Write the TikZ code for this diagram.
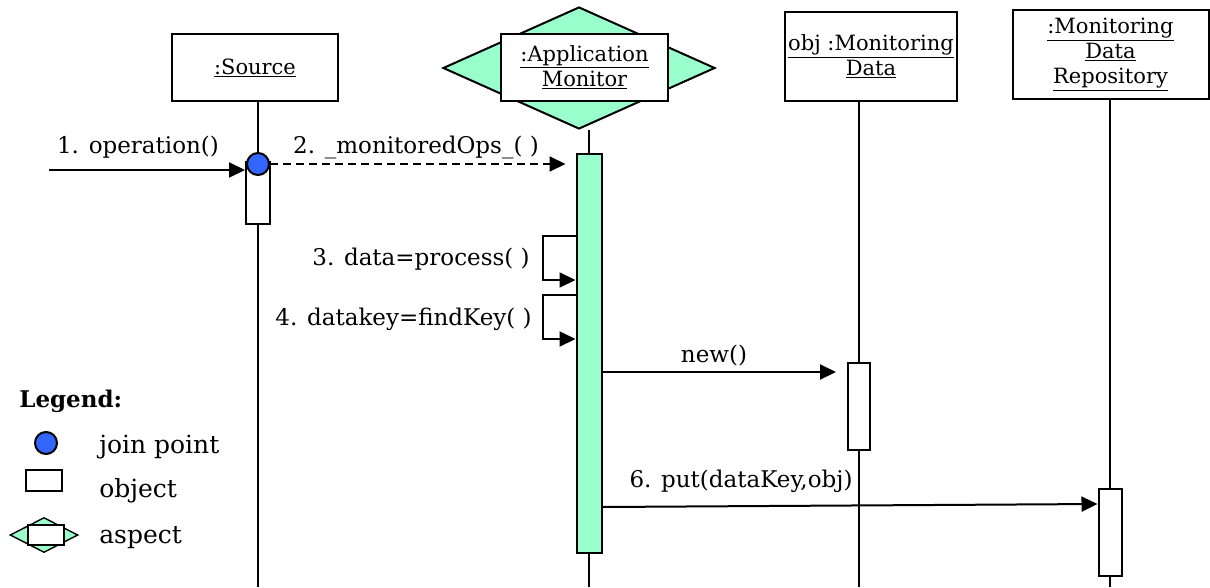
\documentclass[tikz,border=0pt]{standalone}
\usepackage{fontspec}
\setmainfont{DejaVu Serif}
\usetikzlibrary{arrows.meta,shapes.geometric}
\definecolor{aspgreen}{HTML}{99FFCC}
\definecolor{jpblue}{HTML}{3366FF}
\newcommand{\ul}[1]{\underline{#1}}

\begin{document}
\begin{tikzpicture}[x=1pt,y=-1pt,line width=2pt,
	every node/.style={font=\fontsize{23}{27}\selectfont},
	obj/.style={draw,fill=white,minimum width=166pt,minimum height=67pt,align=center,inner sep=2pt,font=\fontsize{21}{25}\selectfont},
	bar/.style={draw,fill=white,minimum width=24pt,inner sep=0pt},
	jp/.style={circle,draw,fill=jpblue,minimum size=22pt,inner sep=0pt},
	msg/.style={-{Triangle[length=16pt,width=15pt]}}]
	\useasboundingbox (0,0) rectangle (1210,587);
	% objects and aspect
	\node[diamond,draw,fill=aspgreen,minimum width=272pt,minimum height=122pt,inner sep=0pt] (appdia) at (579,68) {};
	\node[obj] (src) at (255,67.5) {\ul{:Source}};
	\node[obj,minimum width=167pt] (app) at (584.5,67.5) {\ul{:Application}\\\ul{Monitor}};
	\node[obj,minimum width=172pt,minimum height=89pt] (obj) at (871,56.5) {\ul{obj :Monitoring}\\\ul{Data}};
	\node[obj,minimum width=196pt,minimum height=89pt] (repo) at (1110.5,54.5) {\ul{:Monitoring}\\\ul{Data}\\\ul{Repository}};
	% activation bars
	\coordinate (srcbar) at (258,193);
	\coordinate (appbar) at (589,353.5);
	\coordinate (objbar) at (859,406.5);
	\coordinate (repobar) at (1110,532.5);
	\draw (srcbar |- src.south) -- (srcbar |- 0,587);
	\draw (appbar |- appdia.south) -- (appbar |- 0,587);
	\draw (objbar |- obj.south) -- (objbar |- 0,587);
	\draw (repobar |- repo.south) -- (repobar |- 0,587);
	\node[bar,minimum height=62pt] (srcact) at (srcbar) {};
	\node[bar,fill=aspgreen,minimum width=25pt,minimum height=399pt] (appact) at (appbar) {};
	\node[bar,minimum width=22pt,minimum height=87pt] (objact) at (objbar) {};
	\node[bar,minimum width=23pt,minimum height=87pt] (repoact) at (repobar) {};
	\node[jp] (jpt) at (258,164) {};
	% messages
	\coordinate (inop) at (49,170);
	\draw[msg] (inop) -- (inop -| srcact.west);
	\node[anchor=base] at (138,153) {1. operation()};
	\draw[msg,dashed,dash pattern=on 8pt off 5pt,shorten >=10pt] (jpt.east) -- (appact.west |- 0,164);
	\node[anchor=base] at (416,153) {2. \_monitoredOps\_( )};
	\draw[msg] (appact.west |- 0,236) -- (543,236) |- (appact.west |- 0,280);
	\node[anchor=base east] at (534,265) {3. data=process( )};
	\draw[msg] (appact.west |- 0,295) -- (543,295) |- (appact.west |- 0,339);
	\node[anchor=base east] at (536,325) {4. datakey=findKey( )};
	\draw[msg,shorten >=11pt] (appact.east |- 0,372) -- (objact.west |- 0,372);
	\node[anchor=base] at (714,362) {new()};
	\draw[msg] (appact.east |- 0,507) -- (repoact.west |- 0,504);
	\node[anchor=base] at (741,487) {6. put(dataKey,obj)};
	% legend
	\node[anchor=base west,font=\fontsize{23}{27}\selectfont\bfseries] at (15,407) {Legend:};
	\node[jp] (ljp) at (46,443) {};
	\node[anchor=base west,font=\fontsize{25}{29}\selectfont] at (95,453) {join point};
	\node[draw,minimum width=36pt,minimum height=21pt,inner sep=0pt] (lobj) at (44,480.5) {};
	\node[anchor=base west,font=\fontsize{25}{29}\selectfont] at (95,497) {object};
	\node[diamond,draw,fill=aspgreen,line width=1.4pt,minimum width=68pt,minimum height=35pt,inner sep=0pt] (ldia) at (44,535) {};
	\node[draw,fill=white,line width=1.4pt,minimum width=36pt,minimum height=20pt,inner sep=0pt] (lasp) at (46,535) {};
	\node[anchor=base west,font=\fontsize{25}{29}\selectfont] at (95,543) {aspect};
\end{tikzpicture}
\end{document}
